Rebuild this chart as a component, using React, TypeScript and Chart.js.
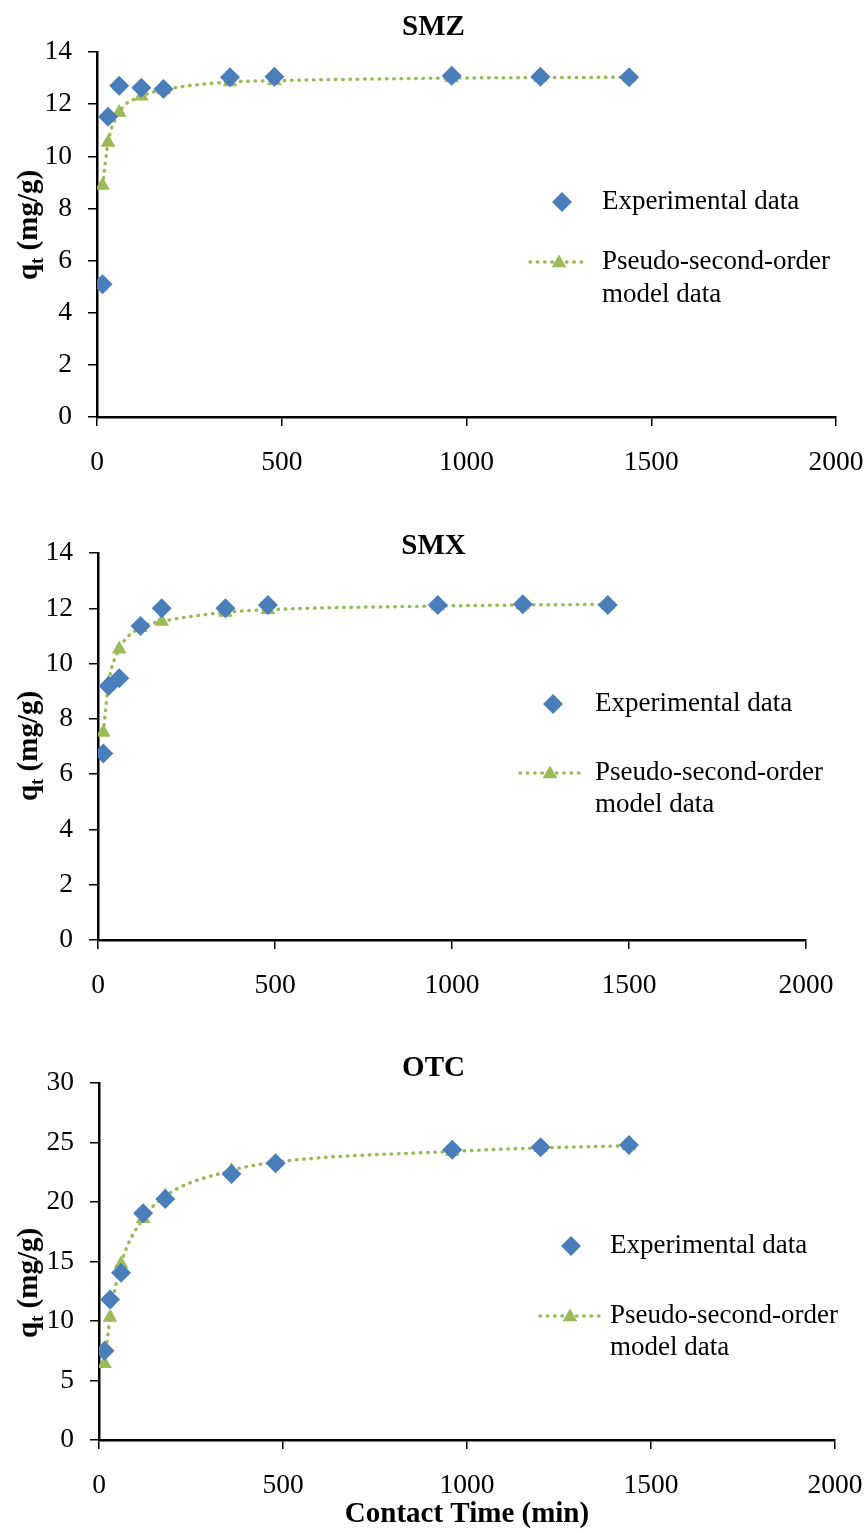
import React, { useEffect, useRef } from "react";
import { Chart, registerables } from "chart.js";

Chart.register(...registerables);

// ---------- data ----------
const times = [15, 30, 60, 120, 180, 360, 480, 960, 1200, 1440];

const smzExperimental = [5.09, 11.52, 12.71, 12.63, 12.58, 13.03, 13.05, 13.09, 13.05, 13.03];
const smzModel = [8.88, 10.53, 11.68, 12.3, 12.55, 12.85, 12.9, 13.0, 13.02, 13.03];

const smxExperimental = [6.75, 9.19, 9.47, 11.36, 12.0, 12.0, 12.12, 12.12, 12.15, 12.12];
const smxModel = [7.51, 9.3, 10.52, 11.3, 11.52, 11.85, 11.95, 12.08, 12.12, 12.14];

const otcExperimental = [7.49, 11.8, 14.05, 19.06, 20.25, 22.35, 23.25, 24.4, 24.6, 24.8];
const otcModel = [6.4, 10.3, 14.8, 18.6, 20.5, 22.65, 23.35, 24.25, 24.55, 24.72];

const xTickValues = [0, 500, 1000, 1500, 2000];
const seriesLabels = ["Experimental data", "Pseudo-second-order", "model data"];
const panelTitles = ["SMZ", "SMX", "OTC"];
const yAxisTitle = { main: "q", sub: "t", rest: " (mg/g)" };
const xAxisTitle = "Contact Time (min)";

// ---------- styles / layout ----------
const FONT = '"Liberation Serif", "Times New Roman", serif';
const BLUE = "#4A7EBB";
const GREEN = "#9BBB59";
const W = 867;
const TICK_SIZE = 27.5;
const LEGEND_SIZE = 27;
const BOLD_SIZE = 29;

type Panel = {
  title: string;
  exp: number[];
  model: number[];
  yMax: number;
  yStep: number;
  top: number;
  height: number;
  area: { left: number; right: number; top: number; bottom: number };
  titleY: number;
  yTitleX: number;
  yTitleY: number;
  legend: { dx: number; dy: number; tx: number; ly: number; lx1: number; lx2: number; my: number };
  xTitle?: { x: number; y: number };
};

const panels: Panel[] = [
  {
    title: panelTitles[0],
    exp: smzExperimental,
    model: smzModel,
    yMax: 14,
    yStep: 2,
    top: 0,
    height: 500,
    area: { left: 97, right: 836, top: 52, bottom: 417 },
    titleY: 28,
    yTitleX: 28,
    yTitleY: 225,
    legend: { dx: 562, dy: 202, tx: 602, ly: 262, lx1: 530, lx2: 588, my: 295 },
  },
  {
    title: panelTitles[1],
    exp: smxExperimental,
    model: smxModel,
    yMax: 14,
    yStep: 2,
    top: 500,
    height: 520,
    area: { left: 98, right: 806, top: 53, bottom: 440 },
    titleY: 47,
    yTitleX: 28,
    yTitleY: 246,
    legend: { dx: 553, dy: 204, tx: 595, ly: 273, lx1: 520, lx2: 580, my: 305 },
  },
  {
    title: panelTitles[2],
    exp: otcExperimental,
    model: otcModel,
    yMax: 30,
    yStep: 5,
    top: 1020,
    height: 513,
    area: { left: 99, right: 835, top: 63, bottom: 420 },
    titleY: 49,
    yTitleX: 28,
    yTitleY: 263,
    legend: { dx: 571, dy: 226, tx: 610, ly: 296, lx1: 540, lx2: 600, my: 328 },
    xTitle: { x: 467, y: 495 },
  },
];

function diamond(ctx: CanvasRenderingContext2D, x: number, y: number, r: number) {
  ctx.beginPath();
  ctx.moveTo(x - r, y);
  ctx.lineTo(x, y - r);
  ctx.lineTo(x + r, y);
  ctx.lineTo(x, y + r);
  ctx.closePath();
  ctx.fill();
}

function triangle(ctx: CanvasRenderingContext2D, x: number, y: number, r: number) {
  ctx.beginPath();
  ctx.moveTo(x, y - r);
  ctx.lineTo(x + r * Math.sin((2 * Math.PI) / 3), y - r * Math.cos((2 * Math.PI) / 3));
  ctx.lineTo(x + r * Math.sin((4 * Math.PI) / 3), y - r * Math.cos((4 * Math.PI) / 3));
  ctx.closePath();
  ctx.fill();
}

function overlayPlugin(p: Panel) {
  return {
    id: "overlay" + p.title,
    afterDraw(chart: any) {
      const ctx: CanvasRenderingContext2D = chart.ctx;
      ctx.save();
      ctx.fillStyle = "#000";
      // panel title
      ctx.font = `bold ${BOLD_SIZE}px ${FONT}`;
      ctx.textAlign = "center";
      ctx.textBaseline = "middle";
      ctx.fillText(p.title, W / 2, p.titleY);

      // x axis title
      if (p.xTitle) {
        ctx.fillText(xAxisTitle, p.xTitle.x, p.xTitle.y);
      }

      // y axis title with subscript
      ctx.save();
      ctx.translate(p.yTitleX, p.yTitleY);
      ctx.rotate(-Math.PI / 2);
      ctx.textAlign = "left";
      ctx.textBaseline = "alphabetic";
      const big = `bold ${BOLD_SIZE}px ${FONT}`;
      const small = `bold 19px ${FONT}`;
      ctx.font = big;
      const wq = ctx.measureText(yAxisTitle.main).width;
      const wr = ctx.measureText(yAxisTitle.rest).width;
      ctx.font = small;
      const ws = ctx.measureText(yAxisTitle.sub).width;
      const total = wq + ws + wr;
      const x0 = -total / 2;
      const base = 9;
      ctx.font = big;
      ctx.fillText(yAxisTitle.main, x0, base);
      ctx.font = small;
      ctx.fillText(yAxisTitle.sub, x0 + wq, base + 6);
      ctx.font = big;
      ctx.fillText(yAxisTitle.rest, x0 + wq + ws, base);
      ctx.restore();

      // legend
      const L = p.legend;
      ctx.fillStyle = BLUE;
      diamond(ctx, L.dx, L.dy, 10);
      ctx.strokeStyle = GREEN;
      ctx.lineWidth = 3.5;
      ctx.lineCap = "round";
      ctx.setLineDash([0.5, 6.8]);
      ctx.beginPath();
      ctx.moveTo(L.lx1, L.ly);
      ctx.lineTo(L.lx2, L.ly);
      ctx.stroke();
      ctx.setLineDash([]);
      ctx.fillStyle = GREEN;
      triangle(ctx, (L.lx1 + L.lx2) / 2, L.ly + 1, 8.5);

      ctx.fillStyle = "#000";
      ctx.font = `${LEGEND_SIZE}px ${FONT}`;
      ctx.textAlign = "left";
      ctx.textBaseline = "middle";
      ctx.fillText(seriesLabels[0], L.tx, L.dy);
      ctx.fillText(seriesLabels[1], L.tx, L.ly);
      ctx.fillText(seriesLabels[2], L.tx, L.my);
      ctx.restore();
    },
  };
}

function KineticsChart({ p }: { p: Panel }) {
  const ref = useRef<HTMLCanvasElement | null>(null);
  useEffect(() => {
    if (!ref.current) return;
    const tickFont = { family: FONT, size: TICK_SIZE };
    const chart = new Chart(ref.current, {
      type: "scatter",
      data: {
        datasets: [
          {
            label: seriesLabels[0],
            data: times.map((t, i) => ({ x: t, y: p.exp[i] })),
            showLine: false,
            pointStyle: "rectRot",
            pointRadius: 10,
            pointBackgroundColor: BLUE,
            pointBorderColor: BLUE,
            pointBorderWidth: 0,
          },
          {
            label: seriesLabels[1] + " " + seriesLabels[2],
            data: times.map((t, i) => ({ x: t, y: p.model[i] })),
            showLine: true,
            borderColor: GREEN,
            borderWidth: 3.5,
            borderDash: [0.5, 6.8],
            borderCapStyle: "round",
            cubicInterpolationMode: "monotone",
            pointStyle: "triangle",
            pointRadius: 8.5,
            pointBackgroundColor: GREEN,
            pointBorderColor: GREEN,
            pointBorderWidth: 0,
          },
        ],
      } as any,
      options: {
        animation: false,
        responsive: false,
        maintainAspectRatio: false,
        devicePixelRatio: 1,
        events: [],
        layout: { padding: { top: p.area.top, right: W - p.area.right, left: 0, bottom: 0 } },
        plugins: { legend: { display: false }, tooltip: { enabled: false }, title: { display: false } },
        scales: {
          x: {
            type: "linear",
            min: 0,
            max: 2000,
            afterBuildTicks: (s: any) => {
              s.ticks = xTickValues.map((v) => ({ value: v }));
            },
            afterFit: (s: any) => {
              s.height = p.height - p.area.bottom;
              s.paddingLeft = 0;
              s.paddingRight = 0;
            },
            ticks: {
              font: tickFont,
              color: "#000",
              padding: 20,
              maxRotation: 0,
              autoSkip: false,
              callback: (v: any) => String(v),
            },
            grid: {
              display: true,
              drawOnChartArea: false,
              drawTicks: true,
              tickLength: 9,
              color: "#000",
              lineWidth: 1.5,
            },
            border: { display: true, color: "#000", width: 2.5 },
          },
          y: {
            type: "linear",
            min: 0,
            max: p.yMax,
            afterFit: (s: any) => {
              s.width = p.area.left;
              s.paddingTop = 0;
              s.paddingBottom = 0;
            },
            ticks: {
              stepSize: p.yStep,
              font: tickFont,
              color: "#000",
              padding: 16,
              callback: (v: any) => String(v),
            },
            grid: {
              display: true,
              drawOnChartArea: false,
              drawTicks: true,
              tickLength: 9,
              color: "#000",
              lineWidth: 1.5,
            },
            border: { display: true, color: "#000", width: 2.5 },
          },
        },
      } as any,
      plugins: [overlayPlugin(p)],
    });
    return () => chart.destroy();
  }, [p]);
  return (
    <canvas
      ref={ref}
      width={W}
      height={p.height}
      style={{ position: "absolute", left: 0, top: p.top, width: W, height: p.height, display: "block" }}
    />
  );
}

export default function App() {
  return (
    <div style={{ position: "absolute", left: 0, top: 0, width: W, height: 1533, background: "#fff" }}>
      {panels.map((p) => (
        <KineticsChart key={p.title} p={p} />
      ))}
    </div>
  );
}
